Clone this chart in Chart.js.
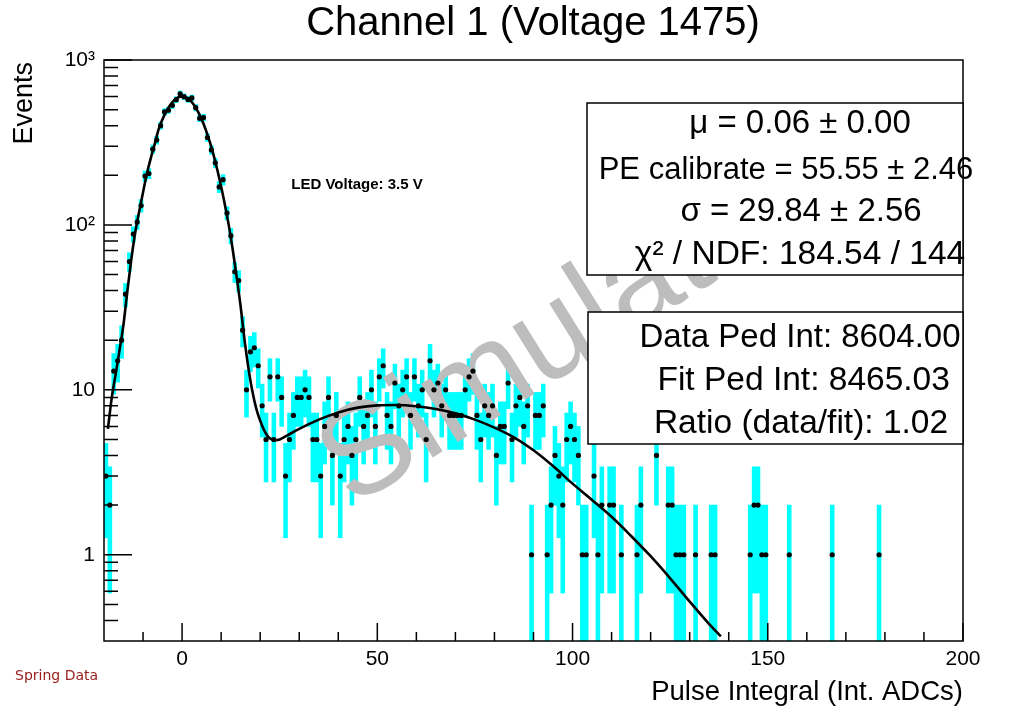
<!DOCTYPE html>
<html>
<head>
<meta charset="utf-8">
<script src="https://cdn.jsdelivr.net/npm/chart.js@4.4.1/dist/chart.umd.min.js"></script>
<style>
  html, body { margin: 0; padding: 0; background: #fff; }
  #wrap { width: 1015px; height: 710px; }
</style>
</head>
<body>
<div id="wrap"><canvas id="c"></canvas></div>
<script>
// histogram: 220 bins of width 1 starting at -20
const binStart = -20;
const binWidth = 1;
const counts = [
  3, 2, 13, 15, 20, 38, 60, 88, 104, 131,
  198, 205, 288, 327, 400, 485, 496, 531, 575, 624,
  599, 577, 589, 514, 443, 448, 339, 285, 238, 170,
  188, 118, 86, 52, 46, 23, 10, 17, 18, 14,
  8, 5, 12, 5, 12, 9, 3, 5, 7, 9,
  9, 10, 9, 5, 5, 3, 6, 9, 4, 7,
  3, 5, 6, 4, 5, 9, 6, 7, 10, 6,
  12, 14, 7, 6, 11, 8, 10, 12, 7, 12,
  8, 10, 5, 15, 10, 11, 8, 10, 7, 7,
  7, 7, 10, 12, 13, 7, 5, 8, 7, 8,
  4, 6, 6, 11, 5, 8, 9, 6, 8, 1,
  7, 7, 8, 1, 2, 4, 3, 2, 5, 6,
  5, 4, 1, 1, 0, 3, 1, 2, 0, 2,
  2, 0, 1, 0, 0, 0, 1, 2, 0, 0,
  0, 4, 0, 0, 2, 2, 1, 1, 1, 0,
  0, 1, 0, 0, 0, 1, 1, 0, 0, 0,
  0, 0, 0, 0, 0, 1, 2, 2, 1, 1,
  0, 0, 0, 0, 0, 1, 0, 0, 0, 0,
  0, 0, 0, 0, 0, 0, 1, 0, 0, 0,
  0, 0, 0, 0, 0, 0, 0, 0, 1, 0,
  0, 0, 0, 0, 0, 0, 0, 0, 0, 0,
  0, 0, 0, 0, 0, 0, 0, 0, 0, 0
];

// fit curve
const fitX = [-19, -18, -17, -16, -15, -14, -13, -12, -11, -10, -9, -8, -7, -6, -5, -4, -3, -2, -1, 0,
  1, 2, 3, 4, 5, 6, 7, 8, 9, 10, 11, 12, 13, 14, 15, 16, 17, 18, 19, 20, 21, 22, 23, 24, 25, 27, 30,
  35, 40, 45, 50, 55, 60, 65, 70, 75, 80, 85, 90, 95, 100, 105, 110, 115, 120, 125, 130, 135, 138];
const fitY = [5.8, 9, 12.5, 17.5, 25, 40, 62, 90, 120, 158, 205, 255, 310, 381, 438, 490, 536, 571, 593, 601,
  593, 571, 536, 490, 438, 381, 324, 269, 217, 171, 131, 98, 70, 48, 32, 20, 13.5, 9.8, 7.7, 6.5, 5.7, 5.2, 5.0, 4.95, 5.0, 5.3, 5.8,
  6.6, 7.3, 7.8, 8.05, 8.1, 7.95, 7.65, 7.2, 6.6, 5.9, 5.15, 4.3, 3.45, 2.7, 2.15, 1.7, 1.3, 0.98, 0.72, 0.52, 0.38, 0.32];

const yMin = 0.33, yMax = 1000;
const xTickLabels = [0, 50, 100, 150, 200];
const yTickLabels = { 1: '1', 10: '10', 100: '10\u00B2', 1000: '10\u00B3' };

const statLines = ['\u03BC = 0.06 \u00B1 0.00', 'PE calibrate = 55.55 \u00B1 2.46', '\u03C3 = 29.84 \u00B1 2.56', '\u03C7\u00B2 / NDF: 184.54 / 144'];
const pedLines = ['Data Ped Int: 8604.00', ' Fit Ped Int: 8465.03', 'Ratio (data/fit): 1.02'];

const points = [], errBars = [];
counts.forEach((n, i) => {
  if (n <= 0) return;
  const xc = binStart + (i + 0.5) * binWidth;
  const e = Math.sqrt(n);
  points.push({ x: xc, y: n });
  errBars.push({ x: xc, y: [Math.max(n - e, yMin * 0.5), n + e] });
});
const fitData = fitX.map((x, i) => ({ x: x, y: fitY[i] }));

const FONT = '"Liberation Sans", Arial, Helvetica, sans-serif';

const rootDecor = {
  id: 'rootDecor',
  afterDatasetDraw(chart, args) {
    if (args.index !== 0) return;
    const ctx = chart.ctx;
    ctx.save();
    ctx.translate(352, 508);
    ctx.rotate(-32 * Math.PI / 180);
    ctx.fillStyle = '#bdbdbd';
    ctx.font = '130px ' + FONT;
    ctx.textBaseline = 'alphabetic';
    ctx.fillText('Simulation', 0, 0);
    ctx.restore();
  },
  afterDraw(chart) {
    const { ctx, chartArea: a, scales: { x, y } } = chart;
    ctx.save();
    // frame
    ctx.strokeStyle = '#000';
    ctx.lineWidth = 1.5;
    ctx.strokeRect(a.left, a.top, a.right - a.left, a.bottom - a.top);
    // x ticks (inside)
    ctx.beginPath();
    for (let v = -10; v <= 200; v += 10) {
      const px = x.getPixelForValue(v);
      const len = (v % 50 === 0) ? 18 : 9;
      ctx.moveTo(px, a.bottom);
      ctx.lineTo(px, a.bottom - len);
    }
    // y ticks (inside)
    for (let k = -1; k <= 3; k++) {
      for (let m = 1; m <= 9; m++) {
        const v = m * Math.pow(10, k);
        if (v < yMin || v > yMax) continue;
        const py = y.getPixelForValue(v);
        const len = m === 1 ? 28 : 14;
        ctx.moveTo(a.left, py);
        ctx.lineTo(a.left + len, py);
      }
    }
    ctx.lineWidth = 1.5;
    ctx.stroke();

    // stat boxes
    const drawBox = (x0, y0, x1, y1, lines, ys, cx, size) => {
      ctx.fillStyle = '#fff';
      ctx.fillRect(x0, y0, x1 - x0, y1 - y0);
      ctx.strokeStyle = '#000';
      ctx.lineWidth = 1.5;
      ctx.strokeRect(x0, y0, x1 - x0, y1 - y0);
      ctx.fillStyle = '#000';
      ctx.textAlign = 'center';
      ctx.textBaseline = 'middle';
      lines.forEach((t, i) => {
        ctx.font = size[i] + 'px ' + FONT;
        ctx.fillText(t, cx[i], ys[i]);
      });
    };
    drawBox(587, 103, a.right, 275, statLines, [124, 170, 212, 255], [800, 786, 801, 800], [33, 31, 33, 33.5]);
    drawBox(588, 312, a.right, 444, pedLines, [338, 381, 424], [800, 799, 801], [33, 33.5, 33.5]);

    // texts
    ctx.fillStyle = '#000';
    ctx.textAlign = 'center';
    ctx.textBaseline = 'middle';
    ctx.font = '40px ' + FONT;
    ctx.fillText('Channel 1 (Voltage 1475)', 533, 24);

    ctx.font = 'bold 15px ' + FONT;
    ctx.fillText('LED Voltage: 3.5 V', 357, 185);

    ctx.font = '27.5px ' + FONT;
    ctx.textAlign = 'right';
    ctx.fillText('Pulse Integral (Int. ADCs)', a.right, 692);

    ctx.font = '27px ' + FONT;
    ctx.save();
    ctx.translate(25, a.top + 2);
    ctx.rotate(-Math.PI / 2);
    ctx.textAlign = 'right';
    ctx.fillText('Events', 0, 0);
    ctx.restore();

    ctx.font = '14px "DejaVu Sans", sans-serif';
    ctx.fillStyle = '#9b2020';
    ctx.textAlign = 'left';
    ctx.fillText('Spring Data', 15, 676);
    ctx.restore();
  }
};

new Chart(document.getElementById('c'), {
  data: {
    datasets: [
      {
        type: 'bar',
        label: 'errors',
        data: errBars,
        backgroundColor: '#00ffff',
        borderWidth: 0,
        barPercentage: 1,
        categoryPercentage: 1,
        grouped: false,
        order: 3
      },
      {
        type: 'scatter',
        label: 'data',
        data: points,
        pointRadius: 2.6,
        pointBackgroundColor: '#000',
        pointBorderWidth: 0,
        order: 2
      },
      {
        type: 'line',
        label: 'fit',
        data: fitData,
        borderColor: '#000',
        borderWidth: 2.6,
        pointRadius: 0,
        cubicInterpolationMode: 'monotone',
        fill: false,
        order: 1
      }
    ]
  },
  options: {
    responsive: true,
    maintainAspectRatio: false,
    animation: false,
    layout: { padding: { top: 60, right: 52, left: 0, bottom: 0 } },
    plugins: { legend: { display: false }, tooltip: { enabled: false }, title: { display: false } },
    scales: {
      x: {
        type: 'linear',
        min: -20,
        max: 200,
        offset: false,
        grid: { display: false, drawTicks: false, offset: false },
        border: { display: false },
        afterBuildTicks: s => { s.ticks = xTickLabels.map(v => ({ value: v })); },
        afterFit: s => { s.height = 69; },
        ticks: { padding: 6, color: '#000', font: { family: FONT, size: 21 }, maxRotation: 0 }
      },
      y: {
        type: 'logarithmic',
        min: yMin,
        max: yMax,
        grid: { display: false, drawTicks: false },
        border: { display: false },
        afterBuildTicks: s => { s.ticks = Object.keys(yTickLabels).map(v => ({ value: +v })); },
        afterFit: s => { s.width = 104; },
        ticks: { padding: 9, color: '#000', font: { family: FONT, size: 21 }, callback: v => yTickLabels[v] }
      }
    }
  },
  plugins: [rootDecor]
});
</script>
</body>
</html>
